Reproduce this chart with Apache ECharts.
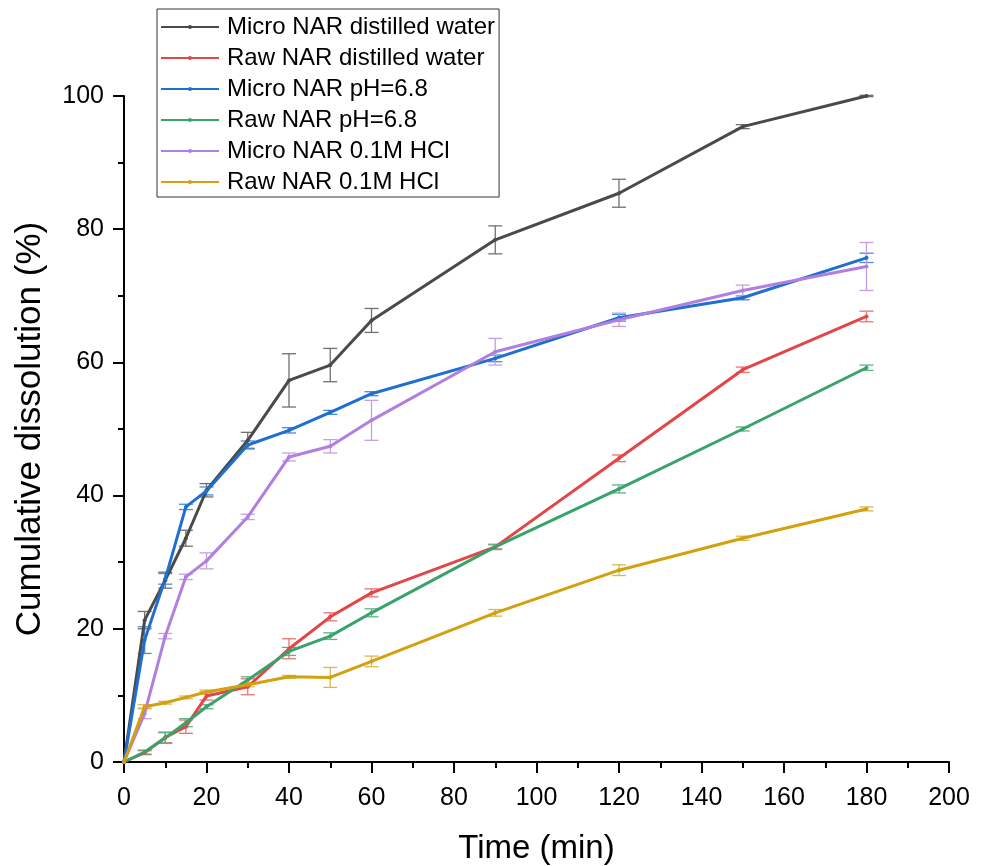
<!DOCTYPE html>
<html>
<head>
<meta charset="utf-8">
<script src="https://cdn.jsdelivr.net/npm/echarts@6/dist/echarts.min.js"></script>
<style>html,body{margin:0;padding:0;background:#fff}#chart{width:984px;height:866px}</style>
</head>
<body>
<div id="chart"></div>
<script>
const time = [0, 5, 10, 15, 20, 30, 40, 50, 60, 90, 120, 150, 180];
const xTicks = [0, 20, 40, 60, 80, 100, 120, 140, 160, 180, 200];
const yTicks = [0, 20, 40, 60, 80, 100];

const seriesNames = [
  'Micro NAR distilled water',
  'Raw NAR distilled water',
  'Micro NAR pH=6.8',
  'Raw NAR pH=6.8',
  'Micro NAR 0.1M HCl',
  'Raw NAR 0.1M HCl'
];

const microWater    = [0, 21.3, 27.3, 33.6, 40.8, 48.3, 57.3, 59.6, 66.3, 78.4, 85.4, 95.4, 100];
const microWaterErr = [0, 1.3, 1.2, 1.2, 1.0, 1.2, 4.0, 2.5, 1.8, 2.1, 2.1, 0.3, 0.1];
const rawWater      = [0, 1.4, 3.7, 5.3, 9.9, 11.3, 17.0, 21.8, 25.4, 32.3, 45.6, 58.9, 66.9];
const rawWaterErr   = [0, 0.3, 0.8, 1.0, 0.6, 1.2, 1.5, 0.6, 0.6, 0.3, 0.5, 0.4, 0.8];
const microPH       = [0, 18.3, 27.5, 38.3, 40.7, 47.6, 49.8, 52.5, 55.3, 60.6, 66.7, 69.7, 75.7];
const microPHErr    = [0, 2.0, 0.8, 0.4, 0.6, 0.6, 0.4, 0.3, 0.3, 0.5, 0.5, 0.3, 0.7];
const rawPH         = [0, 1.5, 3.6, 5.9, 8.3, 12.3, 16.6, 18.9, 22.4, 32.3, 41.0, 50.0, 59.2];
const rawPHErr      = [0, 0.3, 0.8, 0.6, 0.3, 0.5, 0.6, 0.5, 0.6, 0.4, 0.6, 0.3, 0.4];
const microHCl      = [0, 7.3, 18.9, 27.8, 30.2, 36.8, 45.8, 47.4, 51.3, 61.6, 66.4, 70.8, 74.4];
const microHClErr   = [0, 0.8, 0.4, 0.4, 1.2, 0.4, 0.6, 1.0, 3.0, 2.0, 1.0, 0.8, 3.6];
const rawHCl        = [0, 8.3, 8.9, 9.7, 10.5, 11.6, 12.8, 12.7, 15.1, 22.4, 28.8, 33.6, 38.0];
const rawHClErr     = [0, 0.3, 0.2, 0.2, 0.3, 0.3, 0.2, 1.5, 0.8, 0.5, 0.8, 0.3, 0.3];

const values = [microWater, rawWater, microPH, rawPH, microHCl, rawHCl];
const errors = [microWaterErr, rawWaterErr, microPHErr, rawPHErr, microHClErr, rawHClErr];
const colors = ['#4a4a4a', '#e34646', '#1f6fd1', '#3aa36c', '#b07fe0', '#d3a10f'];
const errColors = ['#707070', '#e87272', '#4a8bd8', '#5fb387', '#c3a0e6', '#dcb84a'];

const FONT = 'Liberation Sans, Arial, Helvetica, sans-serif';

const series = [];
values.forEach((vals, i) => {
  const errData = time.map((t, k) => [t, vals[k] - errors[i][k], vals[k] + errors[i][k]]).filter((d, k) => errors[i][k] > 0);
  series.push({
    type: 'custom',
    name: 'err' + i,
    data: errData,
    z: 2,
    silent: true,
    renderItem: function (params, api) {
      const x = api.value(0);
      const lo = api.coord([x, api.value(1)]);
      const hi = api.coord([x, api.value(2)]);
      const w = 7;
      const st = { stroke: errColors[i], lineWidth: 1.3 };
      return {
        type: 'group',
        children: [
          { type: 'line', shape: { x1: lo[0], y1: lo[1], x2: hi[0], y2: hi[1] }, style: st },
          { type: 'line', shape: { x1: lo[0] - w, y1: lo[1], x2: lo[0] + w, y2: lo[1] }, style: st },
          { type: 'line', shape: { x1: hi[0] - w, y1: hi[1], x2: hi[0] + w, y2: hi[1] }, style: st }
        ]
      };
    }
  });
});
values.forEach((vals, i) => {
  series.push({
    type: 'line',
    name: seriesNames[i],
    data: time.map((t, k) => [t, vals[k]]),
    color: colors[i],
    lineStyle: { width: 3, color: colors[i] },
    itemStyle: { color: colors[i] },
    symbol: 'circle',
    symbolSize: 4,
    showSymbol: true,
    z: 3
  });
});

const chart = echarts.init(document.getElementById('chart'), null, { renderer: 'canvas' });
chart.setOption({
  backgroundColor: '#ffffff',
  animation: false,
  textStyle: { fontFamily: FONT },
  grid: { left: 124, right: 35, top: 96, bottom: 104, containLabel: false, outerBoundsMode: 'none' },
  legend: {
    data: seriesNames,
    orient: 'vertical',
    left: 157,
    top: 9,
    padding: [6, 4, 3, 3],
    itemGap: 7,
    itemWidth: 58,
    itemHeight: 5,
    borderColor: '#333',
    borderWidth: 1,
    textStyle: { fontFamily: FONT, fontSize: 24, color: '#000', lineHeight: 24, padding: [0, 0, 0, 3] }
  },
  xAxis: {
    type: 'value',
    min: 0,
    max: 200,
    interval: 20,
    name: 'Time (min)',
    nameLocation: 'middle',
    nameGap: 70,
    nameTextStyle: { fontFamily: FONT, fontSize: 33, color: '#000' },
    axisLine: { show: true, onZero: false, lineStyle: { color: '#000', width: 2 } },
    axisTick: { show: true, inside: false, length: 11, lineStyle: { color: '#000', width: 2 } },
    minorTick: { show: true, splitNumber: 2, length: 6, lineStyle: { color: '#000', width: 2 } },
    axisLabel: { fontFamily: FONT, fontSize: 25, color: '#000', margin: 24,
      formatter: v => xTicks.includes(v) ? String(v) : '' },
    splitLine: { show: false }
  },
  yAxis: {
    type: 'value',
    min: 0,
    max: 100,
    interval: 20,
    name: 'Cumulative dissolution (%)',
    nameLocation: 'middle',
    nameGap: 76,
    nameTextStyle: { fontFamily: FONT, fontSize: 35, color: '#000' },
    axisLine: { show: true, onZero: false, lineStyle: { color: '#000', width: 2 } },
    axisTick: { show: true, inside: false, length: 11, lineStyle: { color: '#000', width: 2 } },
    minorTick: { show: true, splitNumber: 2, length: 6, lineStyle: { color: '#000', width: 2 } },
    axisLabel: { fontFamily: FONT, fontSize: 25, color: '#000', margin: 20,
      formatter: v => yTicks.includes(v) ? String(v) : '' },
    splitLine: { show: false }
  },
  series: series
});
</script>
</body>
</html>
